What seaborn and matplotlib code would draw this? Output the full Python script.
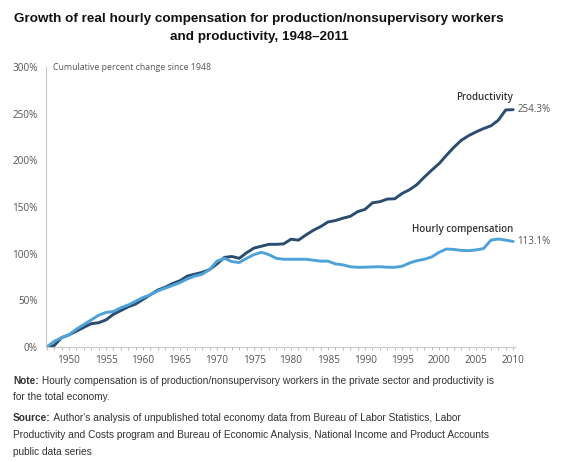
import matplotlib
matplotlib.use("Agg")
import matplotlib.pyplot as plt
import seaborn as sns
import pandas as pd
import numpy as np

# ---- data ----
years = list(range(1948, 2012))
productivity = [0, 1.5, 10, 13, 17, 21, 25, 26, 29, 35,
                39, 43, 46, 51, 56, 61, 64, 68, 71, 76,
                78, 80, 83, 89, 96, 97, 95, 101, 106, 108,
                110, 110, 110.5, 115.5, 114.5, 120, 125, 129, 134, 135.5,
                138, 140, 145, 147.5, 154.5, 155.7, 158.5, 158.8, 164.5, 168.5,
                174, 182, 189.5, 196.5, 205.5, 214, 221.5, 226.5, 230.5, 234,
                237, 243, 254, 254.3]
compensation = [0, 6, 10, 13, 19, 24, 29, 34, 37, 38,
                42, 45, 49, 53, 56, 60, 63, 66, 69, 73,
                76, 78, 83, 92, 95, 91.5, 90.5, 95, 99, 101.5,
                99, 95, 94, 94, 94, 94, 93, 92, 92, 89,
                88, 86, 85.4, 85.5, 85.8, 86, 85.5, 85.4, 86.5, 90,
                92.5, 94, 96.5, 101.5, 105, 104.5, 103.5, 103.2, 104, 105.5,
                114.5, 115.7, 114.5, 113.1]
series_names = ["Productivity", "Hourly compensation"]
end_labels = ["254.3%", "113.1%"]
xtick_labels = [1950, 1955, 1960, 1965, 1970, 1975, 1980, 1985, 1990, 1995, 2000, 2005, 2010]
ytick_values = [0, 50, 100, 150, 200, 250, 300]

df = pd.DataFrame({
    "year": years * 2,
    "value": productivity + compensation,
    "series": [series_names[0]] * len(years) + [series_names[1]] * len(years),
})

sns.set_theme(style="white")
plt.rcParams["font.family"] = ["Liberation Sans", "DejaVu Sans"]

dark = "#2a4d6f"
light = "#4fa2d8"
gray_txt = "#555555"

fig = plt.figure(figsize=(5.68, 4.62), dpi=100)
ax = fig.add_axes([46 / 568, 1 - 347 / 462, (515 - 46) / 568, (347 - 67) / 462])

sns.lineplot(data=df, x="year", y="value", hue="series",
             palette={series_names[0]: dark, series_names[1]: light},
             linewidth=2.1, ax=ax, legend=False)

ax.set_xlim(1947.9, 2011.25)
ax.set_ylim(0, 300)
ax.set_xlabel("")
ax.set_ylabel("")

# spines
for s in ["top", "right"]:
    ax.spines[s].set_visible(False)
for s in ["left", "bottom"]:
    ax.spines[s].set_color("#c8c8c8")
    ax.spines[s].set_linewidth(0.8)

ax.set_yticks(ytick_values)
ax.set_yticklabels([f"{v}%" for v in ytick_values], fontfamily="Open Sans",
                   fontsize=7.2, color=gray_txt)
ax.tick_params(axis="y", length=0, pad=6)

# x labels sit one year to the right of their nominal year in the original
ax.set_xticks([y + 1 for y in xtick_labels])
ax.set_xticklabels([str(y) for y in xtick_labels], fontfamily="Open Sans",
                   fontsize=7.2, color=gray_txt)
ax.set_xticks(np.arange(1948, 2012, 1), minor=True)
ax.tick_params(axis="x", which="both", direction="out", length=2.5, width=0.6,
               color="#b0b0b0", pad=3, bottom=True)

ax.text(0.015, 1.0, "Cumulative percent change since 1948", transform=ax.transAxes,
        fontfamily="Open Sans", fontsize=6.3, color=gray_txt, va="center", ha="left")

# end annotations
ax.text(years[-1], productivity[-1] + 13, series_names[0], ha="right", va="center",
        fontfamily="Open Sans", fontweight="semibold", fontsize=7, color="#333333")
ax.text(years[-1] + 0.6, productivity[-1], end_labels[0], ha="left", va="center",
        fontfamily="Open Sans", fontsize=7, color=gray_txt, clip_on=False)
ax.text(years[-1], compensation[-1] + 13, series_names[1], ha="right", va="center",
        fontfamily="Open Sans", fontweight="semibold", fontsize=7, color="#333333")
ax.text(years[-1] + 0.6, compensation[-1], end_labels[1], ha="left", va="center",
        fontfamily="Open Sans", fontsize=7, color=gray_txt, clip_on=False)

# title
fig.text(259 / 568, 1 - 28 / 462,
         "Growth of real hourly compensation for production/nonsupervisory workers\nand productivity, 1948\u20132011",
         ha="center", va="center", fontsize=9.7, fontweight="bold", color="#111111",
         linespacing=1.75)

# notes
note_col = "#333333"
fs = 7.3
t1 = fig.text(13 / 568, 1 - 386 / 462, "Note:", fontsize=fs, fontweight="bold",
              color=note_col, ha="left", va="bottom")
ax.annotate(" Hourly compensation is of production/nonsupervisory workers in the private sector and productivity is",
            xy=(1, 0), xycoords=t1, fontsize=fs, color=note_col, ha="left", va="bottom",
            annotation_clip=False)
fig.text(13 / 568, 1 - 402 / 462, "for the total economy.", fontsize=fs,
         color=note_col, ha="left", va="bottom")
t2 = fig.text(13 / 568, 1 - 423 / 462, "Source:", fontsize=fs, fontweight="bold",
              color=note_col, ha="left", va="bottom")
ax.annotate(" Author's analysis of unpublished total economy data from Bureau of Labor Statistics, Labor",
            xy=(1, 0), xycoords=t2, fontsize=fs, color=note_col, ha="left", va="bottom",
            annotation_clip=False)
fig.text(13 / 568, 1 - 440 / 462,
         "Productivity and Costs program and Bureau of Economic Analysis, National Income and Product Accounts",
         fontsize=fs, color=note_col, ha="left", va="bottom")
fig.text(13 / 568, 1 - 457 / 462, "public data series", fontsize=fs,
         color=note_col, ha="left", va="bottom")

fig.savefig("out.png", dpi=100)
